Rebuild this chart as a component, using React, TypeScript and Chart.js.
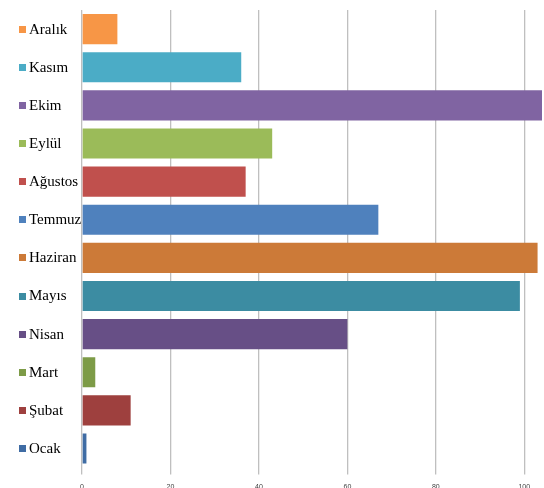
import React, { useEffect, useRef } from "react";
import { Chart, registerables } from "chart.js";

Chart.register(...registerables);

const categories = ["Aralık", "Kasım", "Ekim", "Eylül", "Ağustos", "Temmuz", "Haziran", "Mayıs", "Nisan", "Mart", "Şubat", "Ocak"];
const values = [8, 36, 104, 43, 37, 67, 103, 99, 60, 3, 11, 1];
const colors = ["#F79646", "#4BACC6", "#8064A2", "#9BBB59", "#C0504D", "#4F81BD", "#CC7A38", "#3C8CA2", "#674F86", "#7D9B47", "#9E403E", "#3F6CA4"];
const xTicks = [0, 20, 40, 60, 80, 100];

const labelPlugin = {
  id: "legendLabels",
  afterDraw(chart: any) {
    const ctx = chart.ctx;
    const yScale = chart.scales.y;
    ctx.save();
    ctx.font = '15px "Liberation Serif", "Times New Roman", serif';
    ctx.textBaseline = "middle";
    ctx.textAlign = "left";
    categories.forEach((c, i) => {
      const y = yScale.getPixelForValue(i);
      ctx.fillStyle = colors[i];
      ctx.fillRect(19, Math.round(y - 3.5), 7, 7);
      ctx.fillStyle = "#000000";
      ctx.fillText(c, 29, y + 0.5);
    });
    ctx.restore();
  },
};

export default function App() {
  const ref = useRef<HTMLCanvasElement>(null);
  useEffect(() => {
    if (!ref.current) return;
    const chart = new Chart(ref.current, {
      type: "bar",
      data: {
        labels: categories,
        datasets: [
          {
            data: values,
            backgroundColor: colors,
            borderWidth: 0,
            barPercentage: 0.79,
            categoryPercentage: 1,
          },
        ],
      },
      options: {
        indexAxis: "y",
        animation: false,
        responsive: false,
        maintainAspectRatio: false,
        layout: { padding: { left: 82, right: 2, top: 10, bottom: -11 } },
        plugins: { legend: { display: false }, tooltip: { enabled: false } },
        scales: {
          x: {
            min: 0,
            max: 104,
            afterBuildTicks: (axis: any) => {
              axis.ticks = xTicks.map((v) => ({ value: v }));
            },
            grid: { color: "#BFBFBF", lineWidth: 1.3, drawTicks: true, tickLength: 7 },
            border: { display: false },
            ticks: {
              font: { family: '"Liberation Sans", Arial, sans-serif', size: 7 },
              color: "#404040",
              padding: 8,
              maxRotation: 0,
            },
          },
          y: {
            display: false,
            grid: { display: false },
          },
        },
      },
      plugins: [labelPlugin],
    });
    return () => chart.destroy();
  }, []);
  return (
    <div style={{ position: "absolute", left: 0, top: 0, width: 544, height: 488 }}>
      <canvas ref={ref} width={544} height={488} style={{ width: 544, height: 488 }} />
    </div>
  );
}
